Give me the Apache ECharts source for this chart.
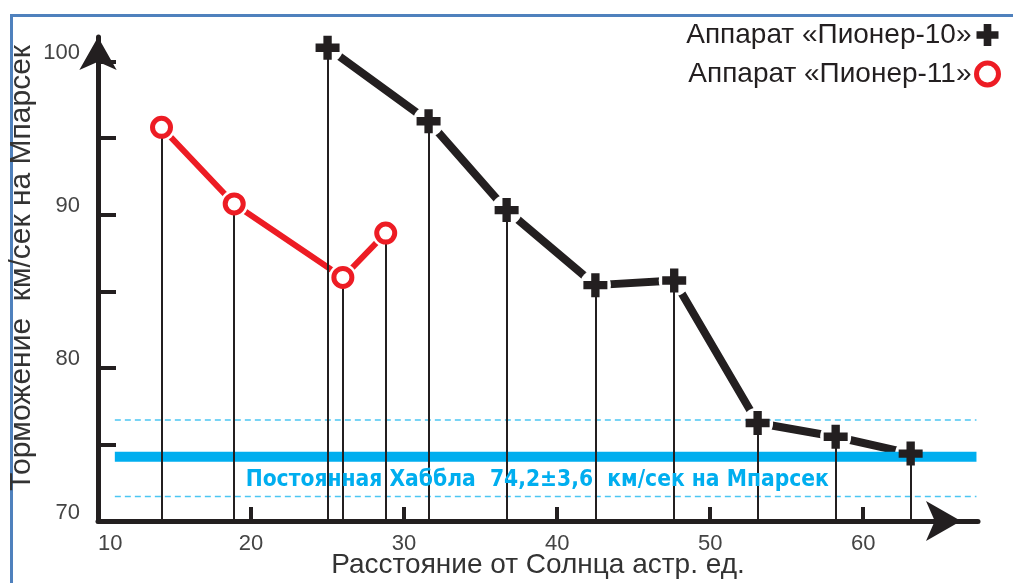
<!DOCTYPE html>
<html>
<head>
<meta charset="utf-8">
<script src="https://cdn.jsdelivr.net/npm/echarts@6/dist/echarts.min.js"></script>
<style>
html,body{margin:0;padding:0;background:#fff;}
#chart{width:1013px;height:583px;}
</style>
</head>
<body>
<div id="chart"></div>
<script>
// ---- data ----
const pioneer10X = [25.0, 31.6, 36.7, 42.5, 47.65, 53.1, 58.2, 63.1];
const pioneer10Y = [100.9, 96.1, 90.3, 85.4, 85.7, 76.4, 75.5, 74.4];
const pioneer11X = [14.15, 18.9, 26.0, 28.8];
const pioneer11Y = [95.7, 90.7, 85.9, 88.8];
const hubbleValue = 74.2;
const hubbleBand = [71.6, 76.6];
const hubbleXRange = [11.1, 67.4];
const xLabelValues = [10, 20, 30, 40, 50, 60];
const xTickValues = [20, 30, 40, 50, 60];
const yLabelValues = [70, 80, 90, 100];
const yTickValues = [75, 80, 85, 90, 95, 100];
const name10 = 'Аппарат «Пионер-10»';
const name11 = 'Аппарат «Пионер-11»';
const hubbleText = 'Постоянная Хаббла  74,2±3,6  км/сек на Мпарсек';
const hubbleTextPos = [38.7, 72.7];

const p10 = pioneer10X.map((x, i) => [x, pioneer10Y[i]]);
const p11 = pioneer11X.map((x, i) => [x, pioneer11Y[i]]);
const crossPath = 'path://M7.5,0 H15.5 V7.5 H23 V15.5 H15.5 V23 H7.5 V15.5 H0 V7.5 H7.5 Z';
const dark = '#231f20';
const red = '#ed1c24';
const blue = '#00aeef';
const font = '"Liberation Sans", Arial, sans-serif';

const drops = p10.concat(p11).map(p => [
  {coord: [p[0], 70], symbol: 'none'},
  {coord: [p[0], p[1]], symbol: 'none'}
]);

const chart = echarts.init(document.getElementById('chart'), null, {renderer: 'canvas'});
chart.setOption({
  animation: false,
  backgroundColor: '#fff',
  textStyle: {fontFamily: font},
  grid: {left: 98, right: 35, top: 37, bottom: 62, containLabel: false, outerBoundsMode: 'none'},
  graphic: [{
    type: 'rect', left: 9, top: 13, silent: true,
    shape: {width: 1100, height: 700},
    style: {fill: 'none', stroke: '#4f81bd', lineWidth: 3}
  }],
  legend: {
    orient: 'vertical', right: 7, top: 16, align: 'right',
    itemWidth: 22, itemHeight: 22, itemGap: 11,
    textStyle: {fontSize: 28, color: dark, fontFamily: font},
    data: [
      {name: name10, icon: crossPath},
      {name: name11, icon: 'circle', itemStyle: {color: '#fff', borderColor: red, borderWidth: 5}}
    ],
    selectedMode: false
  },
  xAxis: {
    type: 'value', min: 10, max: 67.5,
    name: 'Расстояние от Солнца астр. ед.', nameLocation: 'middle', nameGap: 30, nameMoveOverlap: false,
    nameTextStyle: {fontSize: 28, color: '#333', fontFamily: font},
    axisLine: {show: true, lineStyle: {color: dark, width: 5},
      symbol: ['none', 'arrow'], symbolSize: [30, 35], symbolOffset: [0, -17]},
    axisTick: {show: true, inside: true, length: 14, lineStyle: {color: dark, width: 4}, customValues: xTickValues},
    axisLabel: {fontSize: 22, color: '#444', margin: 12, customValues: xLabelValues, alignMinLabel: 'left'},
    splitLine: {show: false}
  },
  yAxis: {
    type: 'value', min: 70, max: 101.6,
    name: 'Торможение  км/сек на Мпарсек', nameLocation: 'middle', nameGap: 61, nameMoveOverlap: false,
    nameTextStyle: {fontSize: 30, color: '#333', fontFamily: font, padding: [0, 0, 0, 22]},
    axisLine: {show: true, lineStyle: {color: dark, width: 5},
      symbol: ['none', 'arrow'], symbolSize: [28, 33]},
    axisTick: {show: true, inside: true, length: 18, lineStyle: {color: dark, width: 4}, customValues: yTickValues},
    axisLabel: {fontSize: 22, color: '#444', margin: 18, verticalAlign: 'bottom', lineHeight: 17, customValues: yLabelValues},
    splitLine: {show: false}
  },
  series: [
    {type: 'line', data: p10, symbol: 'none', z: 1, silent: true,
      lineStyle: {color: dark, width: 8}},
    {type: 'line', data: p11, symbol: 'none', z: 1, silent: true,
      lineStyle: {color: red, width: 6}},
    {type: 'scatter', data: p10, symbol: 'circle', symbolSize: 31, z: 2, silent: true,
      itemStyle: {color: '#fff', opacity: 1}},
    {type: 'scatter', data: p11, symbol: 'circle', symbolSize: 28, z: 2, silent: true,
      itemStyle: {color: '#fff', opacity: 1}},
    {type: 'line', data: hubbleXRange.map(x => [x, hubbleBand[1]]), symbol: 'none', z: 3, silent: true,
      lineStyle: {color: '#4cc6f2', width: 1.5, type: [6, 4]}},
    {type: 'line', data: hubbleXRange.map(x => [x, hubbleBand[0]]), symbol: 'none', z: 3, silent: true,
      lineStyle: {color: '#4cc6f2', width: 1.5, type: [6, 4]}},
    {type: 'line', data: hubbleXRange.map(x => [x, hubbleValue]), symbol: 'none', z: 3, silent: true,
      lineStyle: {color: blue, width: 10},
      markPoint: {
        symbol: 'circle', symbolSize: 0, silent: true,
        label: {show: true, position: 'inside', formatter: hubbleText, color: blue,
          fontSize: 22.6, fontWeight: 'bold', fontFamily: '"Liberation Sans Narrow", "DejaVu Sans Condensed", sans-serif'},
        data: [{coord: hubbleTextPos}]
      }},
    {type: 'line', data: [], z: 4, silent: true,
      markLine: {silent: true, symbol: 'none', animation: false,
        lineStyle: {color: dark, width: 2, type: 'solid'},
        label: {show: false}, emphasis: {disabled: true},
        data: drops}},
    {name: name10, type: 'scatter', data: p10, symbol: crossPath, symbolSize: 24, z: 5,
      itemStyle: {color: dark, opacity: 1}},
    {name: name11, type: 'scatter', data: p11, symbol: 'circle', symbolSize: 18, z: 5,
      itemStyle: {color: '#fff', borderColor: red, borderWidth: 5, opacity: 1}}
  ]
});
</script>
</body>
</html>
